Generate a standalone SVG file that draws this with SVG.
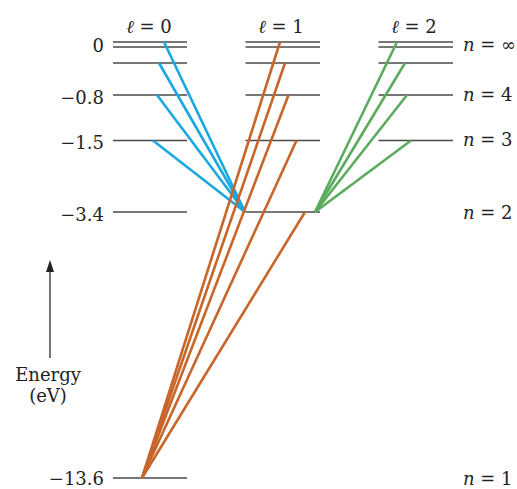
<svg xmlns="http://www.w3.org/2000/svg" width="517" height="489" viewBox="0 0 517 489">
<style>
.lvl{stroke:#4a4a4a;stroke-width:1.5;fill:none}
.b{stroke:#1aa8e2;stroke-width:2.6;fill:none}
.o{stroke:#c8662a;stroke-width:2.6;fill:none}
.g{stroke:#5aac5c;stroke-width:2.6;fill:none}
text{font-family:"DejaVu Serif","Liberation Serif",serif;font-size:18px;fill:#222}
.e{text-anchor:end}
.m{text-anchor:middle}
</style>
<g id="levels">
<g id="l0">
<line class="lvl" x1="113" y1="42" x2="187" y2="42"/>
<line class="lvl" x1="113" y1="47" x2="187" y2="47"/>
<line class="lvl" x1="113" y1="63" x2="187" y2="63"/>
<line class="lvl" x1="113" y1="95" x2="187" y2="95"/>
<line class="lvl" x1="113" y1="140.5" x2="187" y2="140.5"/>
<line class="lvl" x1="113" y1="212" x2="187" y2="212"/>
<line class="lvl" x1="113" y1="478" x2="187" y2="478"/>
</g>
<g id="l1">
<line class="lvl" x1="245.5" y1="42" x2="320" y2="42"/>
<line class="lvl" x1="245.5" y1="47" x2="320" y2="47"/>
<line class="lvl" x1="245.5" y1="63" x2="320" y2="63"/>
<line class="lvl" x1="245.5" y1="95" x2="320" y2="95"/>
<line class="lvl" x1="245.5" y1="140.5" x2="320" y2="140.5"/>
<line class="lvl" x1="245.5" y1="212" x2="320" y2="212"/>
</g>
<g id="l2">
<line class="lvl" x1="378.5" y1="42" x2="453" y2="42"/>
<line class="lvl" x1="378.5" y1="47" x2="453" y2="47"/>
<line class="lvl" x1="378.5" y1="63" x2="453" y2="63"/>
<line class="lvl" x1="378.5" y1="95" x2="453" y2="95"/>
<line class="lvl" x1="378.5" y1="140.5" x2="453" y2="140.5"/>
</g>
</g>
<g id="connectors">
<line class="b" x1="164" y1="42" x2="245" y2="212"/>
<line class="b" x1="159" y1="63" x2="245" y2="212"/>
<line class="b" x1="157" y1="95" x2="245" y2="212"/>
<line class="b" x1="153" y1="140.5" x2="245" y2="212"/>
<line class="o" x1="280" y1="42" x2="142" y2="478"/>
<line class="o" x1="285" y1="63" x2="142" y2="478"/>
<line class="o" x1="288.5" y1="95" x2="142" y2="478"/>
<line class="o" x1="296.5" y1="140.5" x2="142" y2="478"/>
<line class="o" x1="305" y1="212" x2="142" y2="478"/>
<line class="g" x1="397" y1="42" x2="315" y2="212"/>
<line class="g" x1="405" y1="63" x2="315" y2="212"/>
<line class="g" x1="407" y1="95" x2="315" y2="212"/>
<line class="g" x1="411" y1="140.5" x2="315" y2="212"/>
</g>
<g id="lLabels">
<text class="m" x="149" y="33"><tspan font-style="italic">ℓ</tspan> = 0</text>
<text class="m" x="281" y="33"><tspan font-style="italic">ℓ</tspan> = 1</text>
<text class="m" x="414" y="33"><tspan font-style="italic">ℓ</tspan> = 2</text>
</g>
<g id="energyLabels">
<text class="e" x="104" y="52">0</text>
<text class="e" x="104" y="104">−0.8</text>
<text class="e" x="104" y="149">−1.5</text>
<text class="e" x="104" y="221">−3.4</text>
<text class="e" x="104" y="485">−13.6</text>
</g>
<g id="nLabels">
<text x="463" y="51"><tspan font-style="italic">n</tspan> = ∞</text>
<text x="463" y="101"><tspan font-style="italic">n</tspan> = 4</text>
<text x="463" y="146"><tspan font-style="italic">n</tspan> = 3</text>
<text x="463" y="219"><tspan font-style="italic">n</tspan> = 2</text>
<text x="463" y="485"><tspan font-style="italic">n</tspan> = 1</text>
</g>
<g id="energyAxis">
<line x1="50" y1="358" x2="50" y2="270" stroke="#444" stroke-width="1.5"/>
<polygon points="50,260 54,272 46,272" fill="#222"/>
<text class="m" x="48" y="381">Energy</text>
<text class="m" x="48" y="402">(eV)</text>
</g>
</svg>
